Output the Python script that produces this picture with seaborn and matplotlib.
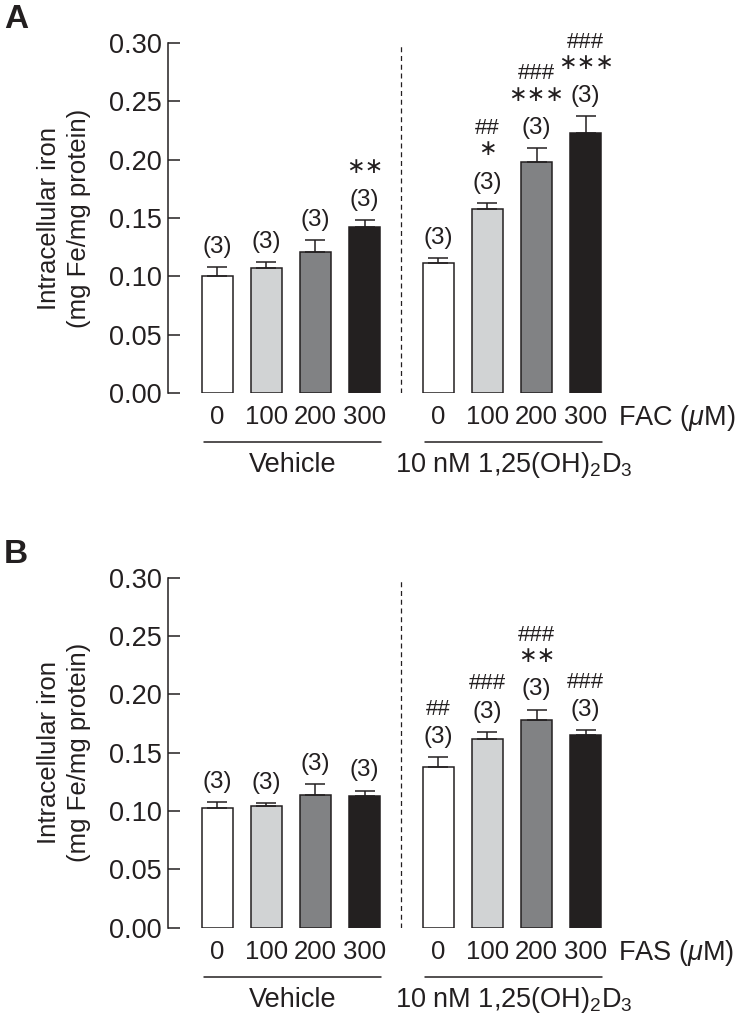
import pandas as pd
import matplotlib
matplotlib.use("Agg")
import matplotlib.pyplot as plt
import seaborn as sns

# values (mean, SEM) -- n = 3 everywhere
doses = ["0", "100", "200", "300"]
groups = ["Vehicle", r"10 nM 1,25(OH)$_2$D$_3$"]

fac_vehicle = [0.100, 0.107, 0.121, 0.142]
fac_vehicle_sem = [0.008, 0.005, 0.010, 0.006]
fac_d3 = [0.111, 0.158, 0.198, 0.223]
fac_d3_sem = [0.005, 0.005, 0.012, 0.014]

fas_vehicle = [0.103, 0.104, 0.114, 0.113]
fas_vehicle_sem = [0.005, 0.0025, 0.009, 0.0045]
fas_d3 = [0.138, 0.162, 0.178, 0.165]
fas_d3_sem = [0.008, 0.006, 0.009, 0.0045]

n_labels = ["(3)"] * 8
fac_stars = ["", "", "", "**", "", "*", "***", "***"]
fac_hashes = ["", "", "", "", "", "##", "###", "###"]
fas_stars = ["", "", "", "", "", "", "**", ""]
fas_hashes = ["", "", "", "", "##", "###", "###", "###"]

bar_colors = ["#ffffff", "#d1d3d4", "#808285", "#231f20"]
dark = "#231f20"

sns.set_style("ticks")
plt.rcParams["font.family"] = ["Liberation Sans", "DejaVu Sans"]
plt.rcParams["mathtext.fontset"] = "custom"
plt.rcParams["mathtext.rm"] = "Liberation Sans"
plt.rcParams["mathtext.it"] = "Liberation Sans:italic"


def make_df(vehicle, vehicle_sem, d3, d3_sem):
    rows = []
    for g, (means, sems) in enumerate([(vehicle, vehicle_sem), (d3, d3_sem)]):
        for i, d in enumerate(doses):
            rows.append({"group": groups[g], "dose": d, "mean": means[i],
                         "sem": sems[i], "pos": i + g * 4.5})
    return pd.DataFrame(rows)


def draw_panel(fig, rect, df, stars, hashes, salt, letter, letter_y):
    ax = fig.add_axes(rect)
    sns.barplot(data=df, x="pos", y="mean", hue="dose", hue_order=doses,
                palette=bar_colors, native_scale=True, dodge=False, width=0.63,
                errorbar=None, edgecolor=dark, linewidth=1.1, legend=False, ax=ax)
    ax.errorbar(df["pos"], df["mean"], yerr=[[0] * len(df), df["sem"]],
                fmt="none", ecolor=dark, elinewidth=1.1, capsize=7.5,
                capthick=1.1, zorder=3)

    # n, stars, hashes stacked above each error bar (offsets in points)
    for i, row in df.iterrows():
        top = row["mean"] + row["sem"]
        xy = (row["pos"], top)
        ax.annotate(n_labels[i], xy, xytext=(0, 14.5), textcoords="offset points",
                    ha="center", va="center", fontsize=17.5, color=dark)
        off = 14.5
        if stars[i]:
            off += 20
            ax.annotate(stars[i].replace("*", "\u2217"), xy,
                        xytext=(0, off + 4), textcoords="offset points",
                        ha="center", va="center", fontsize=16,
                        family="DejaVu Sans", color=dark)
            off -= 1
        if hashes[i]:
            off += 20
            ax.annotate(hashes[i], xy, xytext=(0, off),
                        textcoords="offset points", ha="center", va="center",
                        fontsize=16, color=dark)

    # dashed separator between groups
    ax.plot([3.75, 3.75], [0, 0.30], ls=(0, (4, 3)), color=dark, lw=0.9)

    ax.set_xlim(-1.0, 8.3)
    ax.set_ylim(0, 0.30)
    ax.set_yticks([0, 0.05, 0.10, 0.15, 0.20, 0.25, 0.30])
    ax.set_yticklabels([f"{v:.2f}" for v in ax.get_yticks()], fontsize=19.5)
    ax.set_xticks(df["pos"], doses * 2, fontsize=18.5)
    ax.tick_params(axis="y", direction="in", length=8.5, width=1.1,
                   pad=4.5, color=dark, labelcolor=dark)
    ax.tick_params(axis="x", length=0, pad=9, labelcolor=dark)
    sns.despine(ax=ax, bottom=True, right=True, top=True)
    ax.spines["left"].set_color(dark)
    ax.spines["left"].set_linewidth(1.1)
    ax.set_xlabel("")
    ax.set_ylabel("")

    tr = ax.get_xaxis_transform()
    ax.text(8.15, -0.072, salt + r" ($\mu$M)", transform=tr, ha="left",
            va="center", fontsize=19.5, color=dark)
    for g in range(2):
        x0, x1 = g * 4.5 - 0.26, g * 4.5 + 3 + 0.34
        ax.plot([x0, x1], [-0.14, -0.14], transform=tr, color=dark, lw=1.1,
                clip_on=False)
        ax.text((x0 + x1) / 2, -0.207, groups[g], transform=tr, ha="center",
                va="center", fontsize=19.5, color=dark)

    fig.text(64 / 745, rect[1] + rect[3] / 2,
             "Intracellular iron\n(mg Fe/mg protein)", rotation=90,
             ha="center", va="center", fontsize=18.5, linespacing=1.3,
             color=dark)
    fig.text(4 / 745, letter_y, letter, fontsize=24, fontweight="bold",
             ha="left", va="center", color=dark)
    return ax


fig = plt.figure(figsize=(7.45, 10.22), dpi=100)
W, H = 745, 1022
ax_w = (625 - 168) / W
ax_h = 350 / H

draw_panel(fig, [168 / W, 1 - 393 / H, ax_w, ax_h],
           make_df(fac_vehicle, fac_vehicle_sem, fac_d3, fac_d3_sem),
           fac_stars, fac_hashes, "FAC", "A", 1 - 20 / H)
draw_panel(fig, [168 / W, 1 - 927.7 / H, ax_w, ax_h],
           make_df(fas_vehicle, fas_vehicle_sem, fas_d3, fas_d3_sem),
           fas_stars, fas_hashes, "FAS", "B", 1 - 554 / H)

fig.savefig("out.png", dpi=100)
